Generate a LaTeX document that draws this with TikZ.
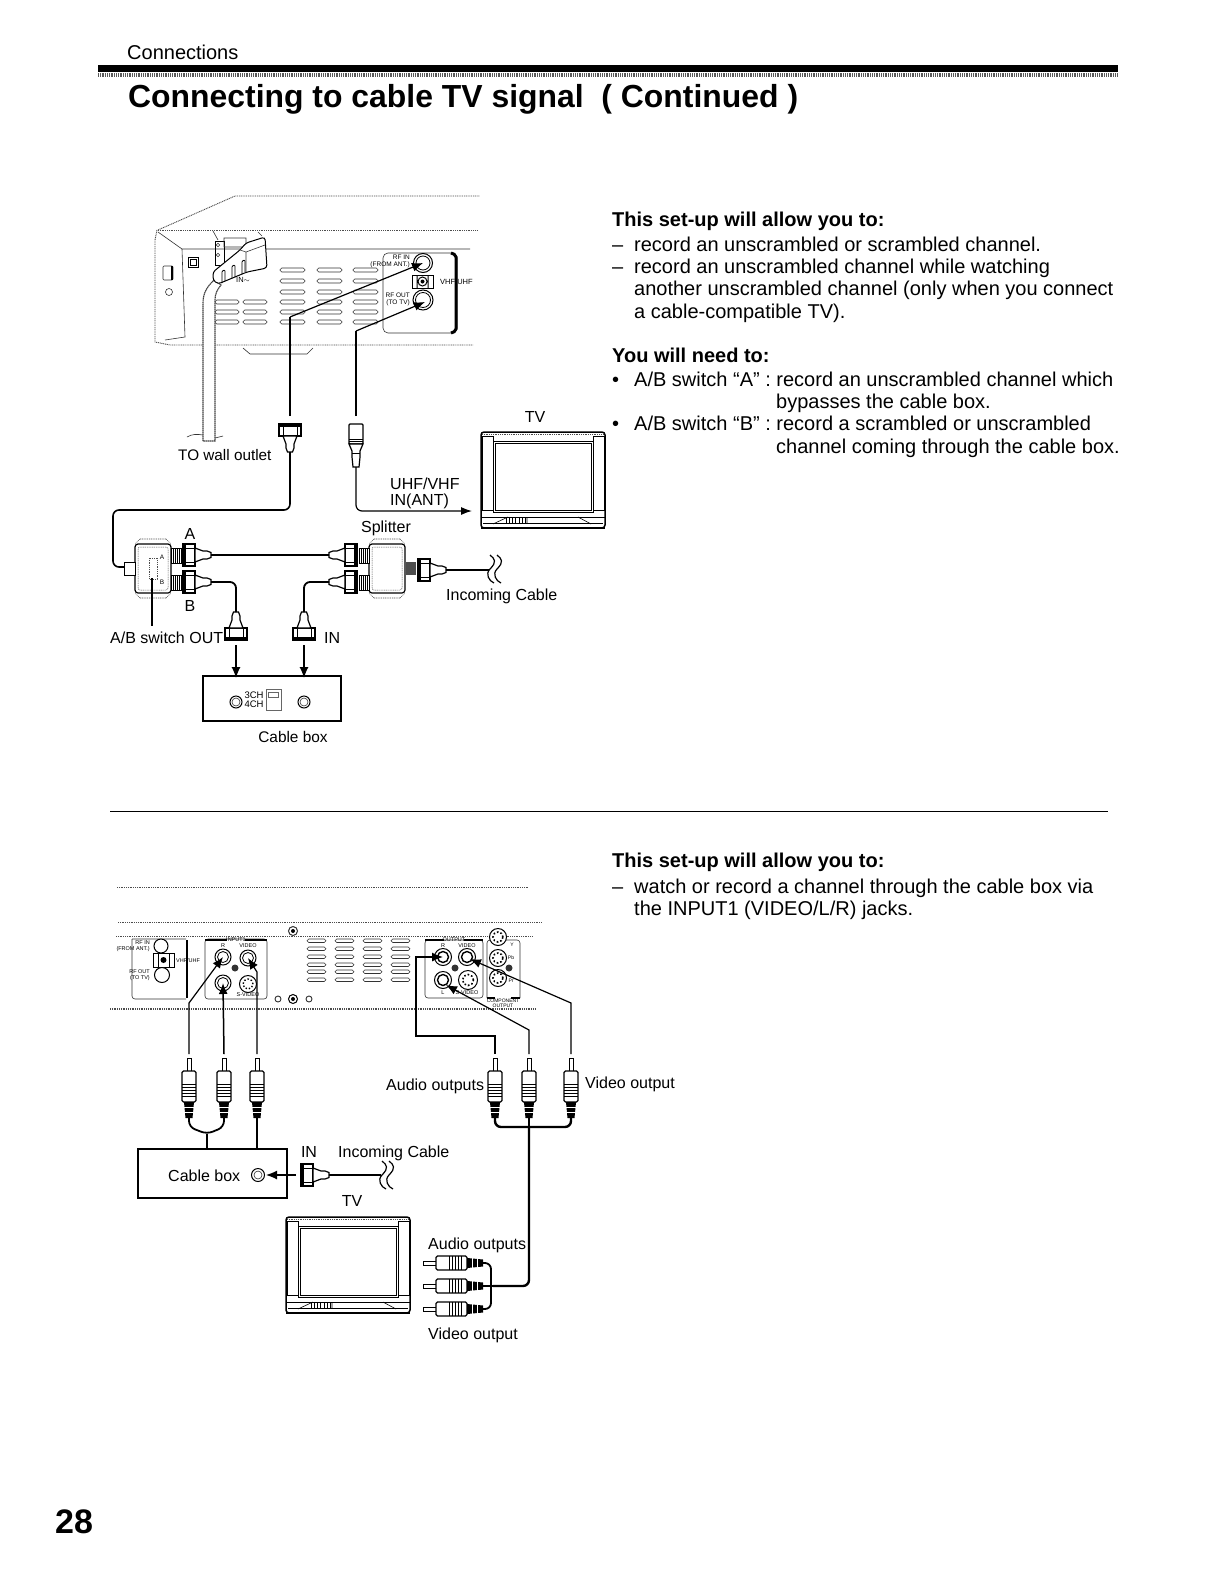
\documentclass[tikz,border=0pt]{standalone}
\usepackage{fontspec}
\setmainfont{Liberation Sans}
\usetikzlibrary{arrows.meta}
\tikzset{
  dotline/.style={black!70,line width=0.9pt,dash pattern=on 1pt off 0.8pt},
  thinline/.style={black!80,line width=0.6pt},
  cable/.style={line width=1.8pt,rounded corners=6pt},
  lead/.style={line width=1.2pt},
  leadarrow/.style={line width=1.2pt,-{Latex[length=11pt,width=9pt]}},
  bodytext/.style={anchor=base west,inner sep=0pt,font=\fontsize{20}{24}\selectfont},
  headtext/.style={anchor=base west,inner sep=0pt,font=\fontsize{20}{24}\selectfont\bfseries},
  labeltext/.style={inner sep=0pt,font=\fontsize{16}{19}\selectfont},
  tinytext/.style={inner sep=0pt,font=\fontsize{6.5}{7}\selectfont,align=right},
  slotbar/.style={thinline,rounded corners=1.7pt},
  jackring/.style={fill=white,line width=1pt},
  pics/rfplug/.style={code={
    \filldraw[fill=white,line width=1.8pt] (-11,0) rectangle (11,12);
    \fill (-11,0) rectangle (11,3);
    \draw[line width=1pt] (-7,3) -- (-7,12) (7,3) -- (7,12);
    \filldraw[fill=white,line width=1.2pt] (-7,12) -- (-4,20) -- (-4,24) -- (-2.5,28) -- (2.5,28) -- (4,24) -- (4,20) -- (7,12) -- cycle;
  }},
  pics/coaxplug/.style={code={
    \filldraw[fill=white,line width=1.2pt,rounded corners=1pt] (-7,0) rectangle (7,20);
    \draw[line width=0.6pt] (-7,17) -- (7,17) (-7,15) -- (7,15);
    \filldraw[fill=white,line width=1.2pt] (-7,20) -- (-4,27) -- (-4,33) -- (-3,43) -- (3,43) -- (4,33) -- (4,27) -- (7,20) -- cycle;
    \draw[line width=0.6pt] (-4,29) -- (4,29);
  }},
  pics/rcaplug/.style={code={
    \filldraw[fill=white,line width=1pt] (-2,0) -- (-2,13) -- (2,13) -- (2,0) -- cycle;
    \filldraw[fill=white,line width=1.3pt,rounded corners=1.5pt] (-7,13) rectangle (7,44);
    \foreach \rib in {26,29,32,35,38} \draw[line width=0.8pt] (-7,\rib) -- (7,\rib);
    \fill (-5,44) -- (5,44) -- (3.5,60) -- (-3.5,60) -- cycle;
    \foreach \rib in {49,54} \draw[white,line width=0.5pt] (-5,\rib) -- (5,\rib);
  }},
  pics/tvset/.style={code={
    \filldraw[fill=white,line width=1.5pt,rounded corners=3pt] (0,0) rectangle (124,96);
    \draw[dotline] (1,2) -- (123,2);
    \draw[line width=0.7pt] (1,4) rectangle (12,78);
    \draw[line width=0.7pt] (112,4) rectangle (123,78);
    \draw[line width=0.9pt] (12,9) rectangle (112,80);
    \draw[line width=0.6pt] (14,11) rectangle (110,78);
    \draw[line width=0.7pt] (0,85) -- (124,85) (2,91) -- (122,91);
    \draw[line width=0.6pt] (12,92) -- (27,85) (97,85) -- (110,92) (46,85) -- (46,91);
    \foreach \tick in {25,28,31,34,38,41,44} \draw[line width=0.5pt] (\tick,85) -- (\tick,91);
    \draw[line width=1.5pt] (0,96) -- (124,96);
  }},
  pics/abbox/.style={code={
    \draw[dotline,line width=0.6pt] (5,-5) -- (-0,0) (31,-5) -- (36,0) (5,-5) -- (31,-5) (5,54) -- (0,49) (31,54) -- (36,49) (5,54) -- (31,54);
    \filldraw[fill=white,line width=1.2pt,rounded corners=3pt] (0,0) rectangle (36,49);
    \draw[dotline,line width=0.5pt,rounded corners=2pt] (3,3) rectangle (33,46);
  }},
  pics/wavecut/.style={code={
    \draw[line width=1.2pt] (3,0) .. controls (8,4) and (10,7) .. (3,14) .. controls (-2,19) and (2,26) .. (7,28);
    \draw[line width=1.2pt] (10,0) .. controls (15,4) and (17,7) .. (10,14) .. controls (5,19) and (9,26) .. (14,28);
  }},
}
\begin{document}
\begin{tikzpicture}[x=1pt,y=-1pt]
\path[use as bounding box] (0,0) rectangle (1212,1574);
\fill[white] (0,0) rectangle (1212,1574);
% page head
\node[bodytext] (pagehead) at (127,59) {Connections};
\fill (98,65) rectangle (1118,72);
\draw[black!65,line width=3.5pt,dash pattern=on 1pt off 0.8pt] (98,75) -- (1118,75);
\node[anchor=base west,inner sep=0pt,font=\fontsize{31.9}{36}\selectfont\bfseries] (pagetitle) at (128,107) {Connecting to cable TV signal\ \ ( Continued )};
\node[anchor=base west,inner sep=0pt,font=\fontsize{34}{36}\selectfont\bfseries] (pagenumber) at (55,1533) {28};
\draw[line width=0.9pt] (110,811) -- (1108,811);

% upper recorder, back panel
\draw[dotline] (158,230) -- (235,196) -- (480,196);
\draw[dotline] (158,230) -- (477,230);
\draw[dotline] (157,230) -- (155,240) -- (155,342) -- (170,345) -- (473,345);
\draw[thinline] (158,232) -- (182,249) -- (470,249) (182,249) -- (185,337) -- (165,340);
\draw[thinline] (243,348) -- (250,354) -- (307,354) -- (313,348);
\draw[thinline,rounded corners=1pt] (163,266) rectangle (173,280);
\fill (171,266) rectangle (173,280);
\draw[thinline] (169,292) circle (3.5pt);
\draw[line width=0.9pt] (188,257) rectangle (198,267);
\draw[line width=0.7pt] (190,259) rectangle (196,265);
\foreach \slotx in {280,317,353}
  \foreach \sloty in {268,279,290,300,310,320}
    \draw[slotbar] (\slotx,\sloty) rectangle +(25,4);
\foreach \slotx in {215,243}
  \foreach \sloty in {300,310,320}
    \draw[slotbar] (\slotx,\sloty) rectangle +(24,4);
\filldraw[thinline,fill=white,rounded corners=5pt] (383,253) rectangle (457,333);
\draw[line width=3pt,rounded corners=2pt] (451,253) -- (456,255) -- (456,331) -- (451,333);
\node[tinytext,anchor=east] (rfinlabel) at (410,261) {RF IN\\(FROM ANT.)};
\node[tinytext,anchor=east] (rfoutlabel) at (410,299) {RF OUT\\(TO TV)};
\node[tinytext,anchor=west,font=\fontsize{7.5}{8}\selectfont] (vhfuhflabel) at (440,282) {VHF/UHF};
\node[tinytext,anchor=west,font=\fontsize{7.5}{8}\selectfont] (powerlabel) at (236,280) {IN$\sim$};
\draw[line width=1pt,fill=white] (412,275) rectangle (433,288);
\draw[line width=1pt] (417,275) -- (417,288) (428,275) -- (428,288) (422.5,281.5) circle (4.5pt);
\fill (422.5,281.5) circle (2pt);
\coordinate (rfinjack) at (423,263);
\coordinate (rfoutjack) at (423,300);
\draw[jackring] (rfinjack) circle (9.5pt);
\draw[line width=0.8pt] (rfinjack) circle (7pt);
\draw[jackring] (rfoutjack) circle (10pt);
\draw[line width=0.8pt] (rfoutjack) circle (7.5pt);

% power cord and plug
\filldraw[black!75,line width=1.1pt,dash pattern=on 1.5pt off 0.5pt,fill=white] (203,441) -- (203,303) .. controls (203,292) and (208,286) .. (214,280) -- (221,285) .. controls (217,290) and (215,294) .. (215,300) -- (215,441) -- cycle;
\draw[thinline] (187,437) .. controls (192,434) and (197,434) .. (203,435) (215,438) -- (223,436);
\draw[line width=0.9pt] (215,241) rectangle (224,265);
\draw[thinline] (218,245) circle (1.7pt) (218,255) circle (1.7pt);
\draw[thinline] (213,231) -- (218,240) (224,238) rectangle (246,247) (258,232) -- (262,236);
\filldraw[fill=white,line width=1pt,rounded corners=3pt] (213,272) -- (240,250) -- (246,243) -- (265,237) -- (267,268) -- (247,272) -- (218,284) -- (213,280) -- cycle;
\draw[line width=0.8pt,rounded corners=1pt] (222,283) -- (222,271) -- (225,270) -- (225,281);
\draw[line width=0.8pt,rounded corners=1pt] (232,278) -- (232,266) -- (235,265) -- (235,277);
\draw[line width=0.8pt,rounded corners=1pt] (242,274) -- (242,261) -- (245,260) -- (245,272);
\draw[thinline] (240,250) -- (246,252) -- (246,272) (246,252) -- (265,245);

% upper leads to the recorder
\coordinate (inplugtop) at (290,416);
\coordinate (inbend) at (290,317);
\coordinate (outplugtop) at (356,416);
\coordinate (outbend) at (356,331);
\draw[lead] (inplugtop) -- (inbend);
\draw[leadarrow] (inbend) -- (rfinjack);
\draw[lead] (outplugtop) -- (outbend);
\draw[leadarrow] (outbend) -- (425,302);

% plugs below the recorder
\pic at (290,424) {rfplug};
\pic at (356,424) {coaxplug};
\node[labeltext,anchor=base west,font=\fontsize{15.3}{19}\selectfont] (walllabel) at (178,460) {TO wall outlet};
\coordinate (wallplug) at (290,452);
\coordinate (tvplug) at (356,467);
\coordinate (tvinput) at (472,511);
\coordinate (switchinput) at (125,567);
\draw[cable,line width=1.6pt] (wallplug) -- (290,510) -- (113,510) -- (113,567) -- (switchinput);
\draw[cable,line width=1.2pt,-{Latex[length=11pt,width=8pt]}] (tvplug) -- (356,511) -- (tvinput);

% TV with antenna input
\pic at (481,432) {tvset};
\node[labeltext] (tvlabel) at (535,417) {TV};
\node[labeltext,anchor=base west,align=left] (antlabel) at (390,489) {UHF/VHF};
\node[labeltext,anchor=base west] (antlabelb) at (390,505) {IN(ANT)};
\node[labeltext] (splitterlabel) at (386,528) {Splitter};
\node[labeltext] (alabel) at (190,534) {A};
\node[labeltext] (blabel) at (190,606) {B};
\node[labeltext,anchor=base west] (incomingtop) at (446,600) {Incoming Cable};
\node[labeltext,anchor=base west] (switchlabel) at (110,643) {A/B switch OUT};
\node[labeltext,anchor=base west] (inlabel) at (324,643) {IN};

% A/B switch
\pic at (135,544) {abbox};
\filldraw[fill=white,line width=1pt] (124,562) rectangle (135,575);
\draw[dotline,line width=0.6pt] (149,558) rectangle (157,579);
\node[tinytext,font=\fontsize{6.5}{7}\selectfont] (switcha) at (162,557) {A};
\node[tinytext,font=\fontsize{6.5}{7}\selectfont] (switchb) at (162,582) {B};
\draw[lead] (152,578) -- (152,626);
% splitter
\pic at (369,544) {abbox};
\foreach \socketx/\sockety in {171/548,171/575,359/548,359/575} {
  \filldraw[fill=white,line width=1pt] (\socketx,\sockety) rectangle +(10,15);
  \foreach \ribx in {2,4,6,8} \draw[line width=0.6pt] (\socketx+\ribx,\sockety) -- +(0,15);
}
\fill[black!70] (406,562) rectangle (416,575);
% coax plugs and cables between the boxes
\pic[rotate=90] at (183,555) {rfplug};
\pic[rotate=90] at (183,582) {rfplug};
\pic[rotate=-90] at (357,555) {rfplug};
\pic[rotate=-90] at (357,582) {rfplug};
\pic[rotate=90] at (418,570) {rfplug};
\pic[rotate=180] at (236,640) {rfplug};
\pic[rotate=180] at (304,640) {rfplug};
\coordinate (plugatip) at (211,555);
\coordinate (plugbtip) at (211,582);
\coordinate (splittertipa) at (329,555);
\coordinate (splittertipb) at (329,582);
\coordinate (outplugtip) at (236,612);
\coordinate (inplugtip) at (304,612);
\coordinate (incomingtip) at (446,570);
\coordinate (incomingcut) at (489,570);
\draw[cable,line width=2pt] (plugatip) -- (splittertipa);
\draw[cable] (plugbtip) -- (236,582) -- (outplugtip);
\draw[cable] (splittertipb) -- (304,582) -- (inplugtip);
\draw[cable,line width=2pt] (incomingtip) -- (incomingcut);
\pic at (487,555) {wavecut};

% cable box, upper
\draw[line width=1.6pt] (203,676) rectangle (341,721);
\coordinate (outjack) at (236,702);
\coordinate (injack) at (304,702);
\draw[leadarrow] (236,645) -- (236,678);
\draw[leadarrow] (304,645) -- (304,678);
\draw[line width=1pt] (outjack) circle (6pt) (injack) circle (6pt);
\draw[thinline] (outjack) circle (4pt) (injack) circle (4pt);
\draw[thinline,black!60] (266,689) rectangle (281,710) (268,692) rectangle (278,697);
\node[tinytext,font=\fontsize{9.5}{10}\selectfont] (ch3label) at (254,695) {3CH};
\node[tinytext,font=\fontsize{9.5}{10}\selectfont] (ch4label) at (254,704) {4CH};
\node[labeltext,font=\fontsize{15.4}{19}\selectfont] (boxlabel) at (293,737) {Cable box};

% right column, upper
\node[headtext] (allowtop) at (612,226) {This set-up will allow you to:};
\node[bodytext] (topa) at (612,251) {–};
\node[bodytext] (topaa) at (634,251) {record an unscrambled or scrambled channel.};
\node[bodytext] (topb) at (612,273) {–};
\node[bodytext] (topbb) at (634,273) {record an unscrambled channel while watching};
\node[bodytext] (topc) at (634,295) {another unscrambled channel (only when you connect};
\node[bodytext] (topd) at (634,318) {a cable-compatible TV).};
\node[headtext] (needtop) at (612,362) {You will need to:};
\node[bodytext] (needa) at (612,386) {•};
\node[bodytext] (needaa) at (634,386) {A/B switch “A” : record an unscrambled channel which};
\node[bodytext] (needab) at (776,408) {bypasses the cable box.};
\node[bodytext] (needb) at (612,430) {•};
\node[bodytext] (needba) at (634,430) {A/B switch “B” : record a scrambled or unscrambled};
\node[bodytext] (needbb) at (776,453) {channel coming through the cable box.};

% right column, lower
\node[headtext] (allowlow) at (612,867) {This set-up will allow you to:};
\node[bodytext] (lowa) at (612,893) {–};
\node[bodytext] (lowaa) at (634,893) {watch or record a channel through the cable box via};
\node[bodytext] (lowb) at (634,915) {the INPUT1 (VIDEO/L/R) jacks.};

% lower recorder, back panel
\draw[dotline] (117,887) -- (528,887);
\draw[dotline,line width=0.7pt] (118,922) -- (542,922);
\draw[dotline,line width=0.7pt] (116,936) -- (533,936);
\draw[dotline,line width=1.2pt] (110,1009) -- (535,1009);
\draw[thinline,line width=1pt] (293,931) circle (4.5pt);
\fill (293,931) circle (2pt);
\foreach \slotx in {307,335,363,391}
  \foreach \sloty in {939,947,955,963,970,978}
    \draw[slotbar] (\slotx,\sloty) rectangle +(19,3.5);
% rf panel
\draw[thinline,rounded corners=3pt] (132,939) -- (186,939) (186,999) -- (132,999) -- (132,939);
\draw[line width=2.5pt] (187,940) -- (187,998);
\draw[jackring] (161,946) circle (7pt);
\draw[line width=0.9pt,fill=white] (153,953) rectangle (174,967);
\draw[line width=0.9pt] (158,953) -- (158,967) (169,953) -- (169,967);
\fill (163.5,960) circle (3pt);
\draw[jackring] (162,975) circle (7.5pt);
\node[tinytext,anchor=east,font=\fontsize{5.5}{6}\selectfont] (rfinb) at (150,946) {RF IN\\(FROM ANT.)};
\node[tinytext,anchor=east,font=\fontsize{5.5}{6}\selectfont] (rfoutb) at (150,975) {RF OUT\\(TO TV)};
\node[tinytext,anchor=west,font=\fontsize{5.5}{6}\selectfont] (vhfuhfb) at (176,961) {VHF/UHF};
% input panel
\draw[thinline,rounded corners=3pt] (205,939) rectangle (267,999);
\draw[line width=2pt] (205,940) -- (227,940) (245,940) -- (267,940);
\node[tinytext,font=\fontsize{5.5}{6}\selectfont] (inputlabel) at (236,940) {INPUT1};
\node[tinytext,font=\fontsize{5.5}{6}\selectfont] (videolabelin) at (248,946) {VIDEO};
\node[tinytext,font=\fontsize{5.5}{6}\selectfont] (rlabelin) at (223,946) {R};
\node[tinytext,font=\fontsize{5.5}{6}\selectfont] (svideolabel) at (248,995) {S-VIDEO};
\coordinate (input-r) at (223,957);
\coordinate (input-l) at (223,983);
\coordinate (input-v) at (248,958);
\coordinate (input-s) at (248,984);
\foreach \jack in {input-r,input-l,input-v} {
  \draw[jackring] (\jack) circle (8pt);
  \draw[line width=0.8pt] (\jack) circle (5.5pt);
}
\draw[jackring] (input-s) circle (8.5pt);
\draw[line width=1.4pt,dotted] (input-s) circle (5pt);
\fill[black!80] (235,968) circle (3.5pt);
\foreach \ringx/\ringr in {278/3,309/3} \draw[thinline,line width=0.9pt] (\ringx,999) circle (\ringr pt);
\draw[line width=1pt] (293,999) circle (4.5pt);
\fill (293,999) circle (2pt);
% output panel
\draw[thinline,rounded corners=3pt] (425,940) rectangle (483,998);
\draw[line width=2pt] (425,940) -- (444,940) (464,940) -- (483,940);
\node[tinytext,font=\fontsize{5.5}{6}\selectfont] (outputlabel) at (454,940) {OUTPUT};
\node[tinytext,font=\fontsize{5.5}{6}\selectfont] (videolabelout) at (467,946) {VIDEO};
\node[tinytext,font=\fontsize{5.5}{6}\selectfont] (rlabelout) at (443,946) {R};
\node[tinytext,font=\fontsize{5.5}{6}\selectfont] (svideoout) at (467,993) {S-VIDEO};
\node[tinytext,font=\fontsize{5.5}{6}\selectfont] (lsign) at (443,993) {L};
\coordinate (output-r) at (443,957);
\coordinate (output-l) at (443,980);
\coordinate (output-v) at (467,957);
\coordinate (output-s) at (468,980);
\foreach \jack in {output-r,output-l,output-v} {
  \draw[jackring] (\jack) circle (8.5pt);
  \draw[line width=1.4pt] (\jack) circle (5.5pt);
}
\draw[jackring] (output-s) circle (9.5pt);
\draw[line width=1.6pt,dotted] (output-s) circle (5.5pt);
\fill[black!80] (455,968) circle (3.5pt);
% component jacks
\draw[thinline,rounded corners=3pt] (487,998) -- (487,940) -- (520,940) -- (520,998);
\draw[line width=1.8pt] (487,998) -- (495,998) (511,998) -- (520,998);
\draw[jackring] (498,937) circle (8.5pt);
\draw[jackring] (498,958) circle (8.5pt);
\draw[jackring] (498,978) circle (8.5pt);
\foreach \ringy in {937,958,978} \draw[line width=1.6pt,dotted] (498,\ringy) circle (5pt);
\fill[black!80] (509,968) circle (3.5pt);
\node[tinytext,font=\fontsize{5}{5}\selectfont,align=center] (componentlabel) at (503,1003) {COMPONENT\\OUTPUT};
\node[tinytext,font=\fontsize{5}{5}\selectfont] (ylabel) at (512,945) {Y};
\node[tinytext,font=\fontsize{5}{5}\selectfont] (pblabel) at (511,958) {Pb};
\node[tinytext,font=\fontsize{5}{5}\selectfont] (prlabel) at (511,981) {Pr};

% leads, lower recorder
\coordinate (leadin-a) at (189,1054);
\coordinate (leadin-b) at (224,1054);
\coordinate (leadin-c) at (257,1054);
\coordinate (leadout-a) at (495,1054);
\coordinate (leadout-b) at (529,1054);
\coordinate (leadout-c) at (571,1054);
\draw[leadarrow] (leadin-a) -- (189,1003) -- (input-r);
\draw[leadarrow,line width=1.5pt] (leadin-b) -- (input-l);
\draw[leadarrow] (leadin-c) -- (257,972) -- (input-v);
\draw[leadarrow] (leadout-a) -- (495,1036) -- (416,1036) -- (416,957) -- (output-r);
\draw[leadarrow] (leadout-b) -- (529,1030) -- (446,985);
\draw[leadarrow] (leadout-c) -- (571,1003) -- (470,959);

% plugs and cables under the lower recorder
\foreach \plugx in {189,224,257,495,529,571} \pic at (\plugx,1058) {rcaplug};
\node[labeltext,anchor=base west] (audiolabel) at (386,1090) {Audio outputs};
\node[labeltext,anchor=base west] (videolabel) at (585,1088) {Video output};
\coordinate (boxjoin) at (207,1149);
\coordinate (boxpluga) at (189,1118);
\coordinate (boxplugb) at (224,1118);
\coordinate (boxplugc) at (257,1118);
\draw[cable] (boxpluga) -- (189,1127) -- (207,1134) -- (224,1127) -- (boxplugb);
\draw[cable] (207,1134) -- (boxjoin);
\draw[cable] (boxplugc) -- (257,1149);
\coordinate (tvpluga) at (495,1118);
\coordinate (tvplugb) at (529,1118);
\coordinate (tvplugc) at (571,1118);
\coordinate (tvjoin) at (493,1286);
\draw[cable,line width=2.4pt] (tvpluga) -- (495,1127) -- (571,1127) -- (tvplugc);
\draw[cable,line width=2.4pt] (tvplugb) -- (529,1127);
\draw[cable,line width=2.4pt] (529,1127) -- (529,1286) -- (tvjoin);

% cable box, lower
\node[draw,line width=1.6pt,minimum width=149pt,minimum height=49pt,inner sep=0pt] (lowerbox) at (212.5,1173.5) {};
\node[labeltext,anchor=base west] (lowerboxlabel) at (168,1181) {Cable box};
\coordinate (boxjack) at (258,1175);
\draw[line width=1pt] (boxjack) circle (6.5pt);
\draw[thinline] (boxjack) circle (4pt);
\draw[leadarrow] (296,1175) -- (266,1175);
\pic[rotate=90] at (301,1175) {rfplug};
\coordinate (lowertip) at (329,1175);
\coordinate (lowercut) at (381,1175);
\draw[cable,line width=2pt] (lowertip) -- (lowercut);
\pic at (379,1161) {wavecut};
\node[labeltext] (lowerinlabel) at (309,1152) {IN};
\node[labeltext,anchor=base west] (incominglow) at (338,1157) {Incoming Cable};
\node[labeltext] (lowertvlabel) at (352,1201) {TV};

% TV with audio and video plugs
\pic at (286,1217) {tvset};
\node[labeltext,anchor=base west] (audiotv) at (428,1249) {Audio outputs};
\node[labeltext,anchor=base west] (videotv) at (428,1339) {Video output};
\foreach \plugy in {1263,1286,1309} \pic[rotate=90] at (423,\plugy) {rcaplug};
\coordinate (tvplug-a) at (482,1263);
\coordinate (tvplug-b) at (482,1286);
\coordinate (tvplug-c) at (482,1309);
\draw[cable,line width=1.8pt] (tvplug-a) -- (491,1263) -- (491,1309) -- (tvplug-c);
\draw[cable,line width=2.4pt] (tvplug-b) -- (tvjoin);
\end{tikzpicture}
\end{document}
